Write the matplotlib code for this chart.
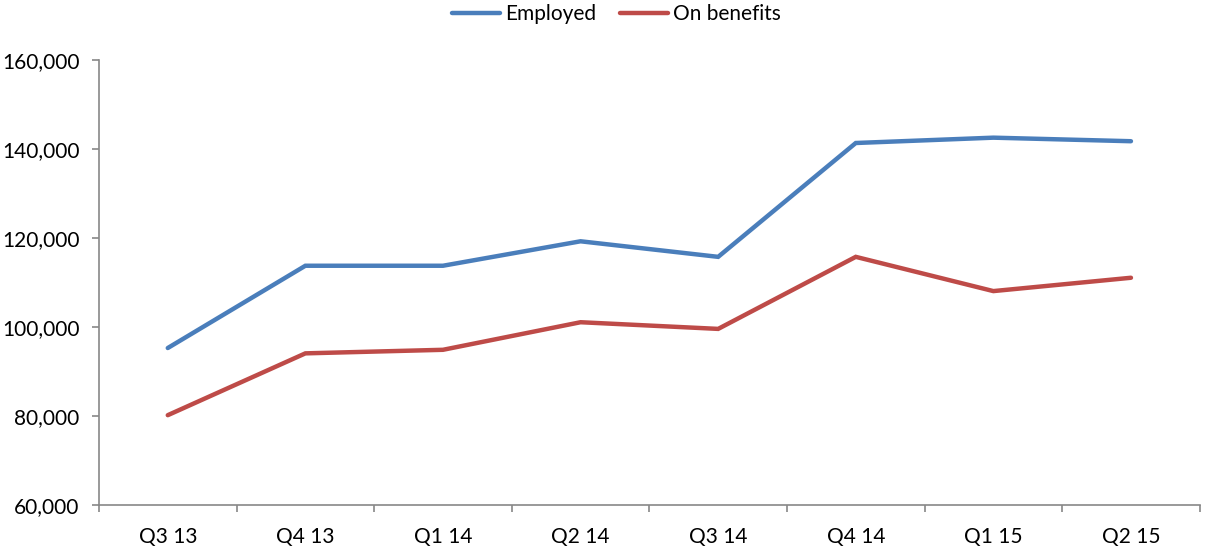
import matplotlib
matplotlib.use("Agg")
import matplotlib.pyplot as plt
from matplotlib.ticker import FuncFormatter, FixedLocator, NullFormatter

quarters = ["Q3 13", "Q4 13", "Q1 14", "Q2 14", "Q3 14", "Q4 14", "Q1 15", "Q2 15"]
employed = [95300, 113800, 113800, 119300, 115800, 141400, 142600, 141800]
on_benefits = [80200, 94100, 94900, 101100, 99600, 115800, 108100, 111100]

plt.rcParams['font.family'] = ['Lato', 'DejaVu Sans']
FS = 15

fig = plt.figure(figsize=(12.07, 5.5), dpi=100)
ax = fig.add_axes([0.082, 0.0818, 0.912, 0.8086])

x = list(range(len(quarters)))
ax.plot(x, employed, color="#4A7EBB", lw=3.2, solid_capstyle="round", solid_joinstyle="miter", label="Employed")
ax.plot(x, on_benefits, color="#BE4B48", lw=3.2, solid_capstyle="round", solid_joinstyle="miter", label="On benefits")

ax.set_xlim(-0.5, len(quarters) - 0.5)
ax.set_ylim(60000, 160000)
ax.set_yticks(range(60000, 160001, 20000))
ax.yaxis.set_major_formatter(FuncFormatter(lambda v, p: f"{int(v):,}"))

# category labels centred, tick marks between categories
ax.set_xticks(x)
ax.set_xticklabels(quarters)
ax.tick_params(axis="x", which="major", length=0, pad=16)
ax.xaxis.set_minor_locator(FixedLocator([i + 0.5 for i in range(-1, len(quarters))]))
ax.xaxis.set_minor_formatter(NullFormatter())
ax.tick_params(axis="x", which="minor", length=5, color="#888888", width=1.2)
ax.tick_params(axis="y", length=5, color="#888888", width=1.2, pad=9)
ax.tick_params(labelsize=FS, labelcolor="black")

for s in ["top", "right"]:
    ax.spines[s].set_visible(False)
for s in ["left", "bottom"]:
    ax.spines[s].set_color("#888888")
    ax.spines[s].set_linewidth(1.2)

leg = ax.legend(loc="center", bbox_to_anchor=(0.47, (550 - 14 - 45) / 445.0), ncol=2, frameon=False,
                fontsize=FS, handlelength=2.3, columnspacing=1.15, handletextpad=0.25,
                borderaxespad=0, borderpad=0)

fig.savefig("out.png", dpi=100, facecolor="white")
